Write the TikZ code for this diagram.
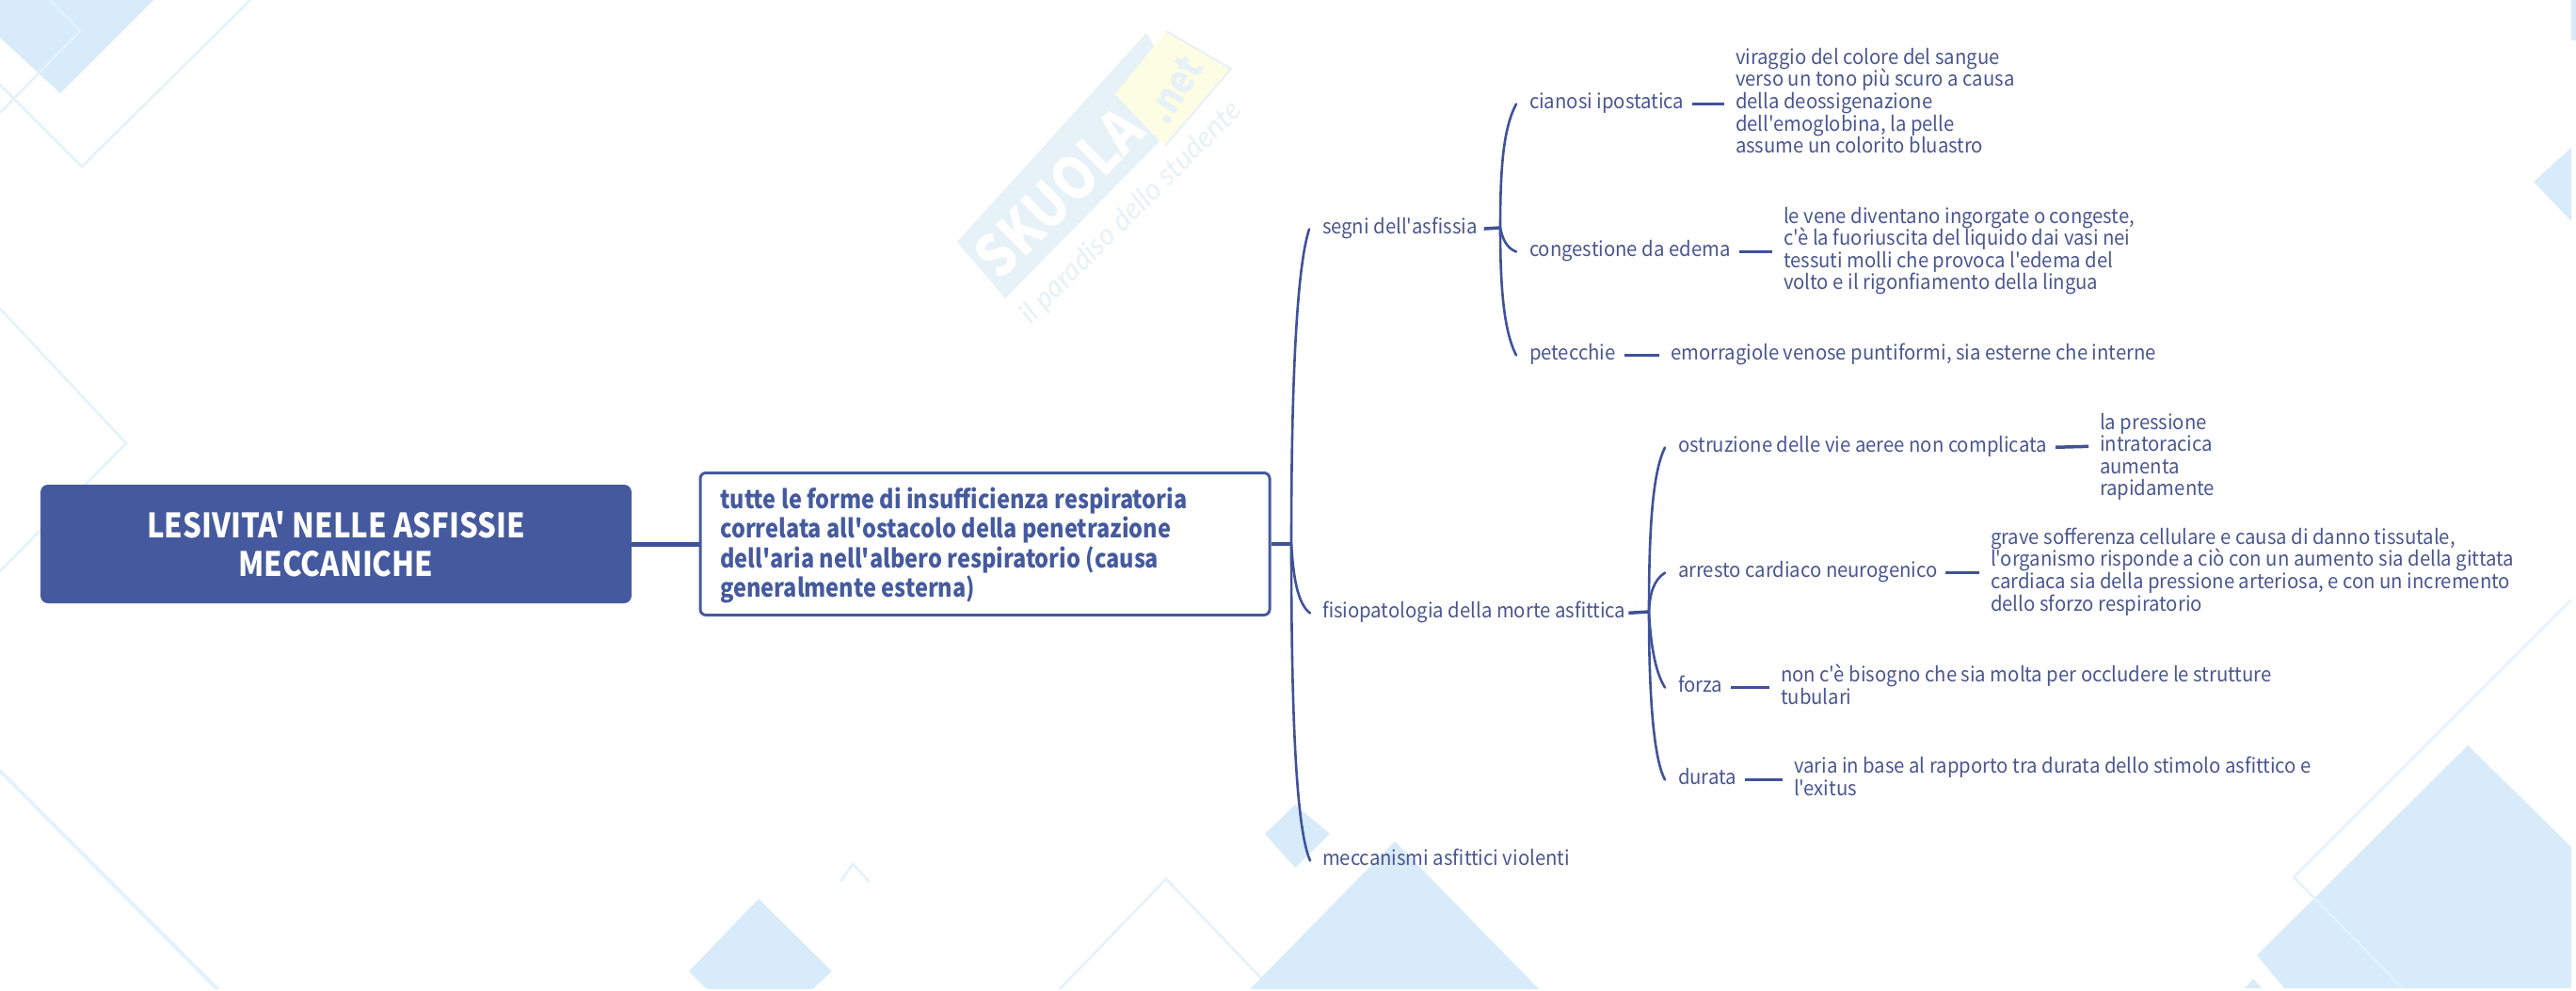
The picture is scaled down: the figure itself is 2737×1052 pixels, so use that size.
\documentclass[tikz,border=0pt]{standalone}
\usepackage{fontspec}
\setmainfont[Ligatures=TeXOff,FakeStretch=.94,BoldFeatures={FakeStretch=.87}]{Noto Sans CJK SC}
\newfontfamily\wmfont{Lato}
\definecolor{mainblue}{HTML}{455A9E}
\definecolor{linkblue}{HTML}{3F5299}
\definecolor{txtblue}{HTML}{4A5690}
\definecolor{bgblue}{HTML}{D8EBFA}
\definecolor{bgline}{HTML}{E3F2FC}
\definecolor{wmblue}{HTML}{E6F1F8}
\definecolor{wmyellow}{HTML}{FDFDE4}
\definecolor{wmtext}{HTML}{E6F1F8}
\newcommand{\tightlines}{\lineskiplimit=-100pt\relax}
\tikzset{
  bgfill/.style={fill=bgblue,draw=none},
  bgstroke/.style={draw=bgline,line width=2.5pt,line join=miter},
  leaf/.style={anchor=west,inner sep=0pt,outer sep=0pt,yshift=-1.5pt,text=txtblue,align=left,font=\fontsize{21.6}{23.6}\selectfont\tightlines},
  rootbox/.style={fill=mainblue,rounded corners=8pt,inner sep=0pt,minimum width=628pt,minimum height=126pt,text=white,align=center,font=\fontsize{35.8}{41}\selectfont\bfseries\tightlines},
  subbox/.style={draw=mainblue,fill=white,line width=3pt,rounded corners=6pt,inner sep=0pt,minimum width=605pt,minimum height=151pt},
  subtext/.style={anchor=west,inner sep=0pt,text=mainblue,align=left,font=\fontsize{27}{31.4}\selectfont\bfseries\tightlines},
  trunk/.style={draw=linkblue,line width=5pt},
  stub/.style={draw=linkblue,line width=3.5pt},
  branch/.style={draw=linkblue,line width=2.6pt,line cap=round},
  dashlink/.style={draw=linkblue,line width=3.5pt,shorten <=9pt,shorten >=12pt}
}
\begin{document}
\begin{tikzpicture}[x=1pt,y=-1pt]
\useasboundingbox (0,0) rectangle (2737,1052);
% background decoration
\begin{scope}
\clip (0,0) rectangle (2732,1050);
\fill[bgfill] (0,0) -- (163,0) -- (64,99) -- (0,40) -- cycle;
\draw[bgstroke] (266,0) -- (87,177) -- (0,90);
\draw[bgstroke] (53,0) -- (85,33) -- (0,120);
\draw[bgstroke] (0,328) -- (134,471) -- (0,607);
\draw[bgstroke,line width=4pt] (0,819) -- (232,1052);
\fill[bgfill] (806,955) -- (884,1032) -- (862,1052) -- (752,1052) -- (732,1032) -- cycle;
\draw[bgstroke] (1125,1052) -- (1239,934) -- (1352,1052);
\draw[bgstroke] (893,937) -- (906,918) -- (924,937);
\fill[bgfill] (1376,855) -- (1413,886) -- (1376,922) -- (1344,886) -- cycle;
\fill[bgfill] (1482,894) -- (1636,1052) -- (1327,1052) -- cycle;
\fill[bgfill] (2622,792) -- (2732,900) -- (2732,1050) -- (2427,1050) -- (2398,1015) -- cycle;
\draw[bgstroke] (2732,637) -- (2437,932) -- (2553,1050);
\fill[bgfill] (2385,1050) -- (2394,1040) -- (2403,1050) -- cycle;
\fill[bgfill] (2692,193) -- (2732,157) -- (2732,235) -- cycle;
\end{scope}
\fill[bgfill] (2732,0) rectangle (2737,43);
% watermark
\fill[wmblue] (1218,35) -- (1017,257) -- (1068,317) -- (1232,150) -- (1185,100) -- (1228,52) -- cycle;
\fill[wmyellow] (1239,33) -- (1308,73) -- (1238,155) -- (1185,100) -- cycle;
\draw[wmblue,line width=2pt] (1239,33) -- (1308,73) -- (1238,155);
\node[rotate=45,inner sep=0pt,text=white,font=\fontsize{62}{62}\selectfont\bfseries] (wmname) at (1125,205) {SKUOLA};
\node[rotate=58,inner sep=0pt,text=wmtext,font=\fontsize{42}{42}\selectfont\bfseries] (wmnet) at (1248,95) {.net};
\node[rotate=45,inner sep=0pt,text=wmtext,font=\wmfont\itshape\fontsize{31}{31}\selectfont] (wmtag) at (1202,226) {il paradiso dello studente};

% nodes
\node[rootbox] (root) at (357,578) {LESIVITA' NELLE ASFISSIE\\MECCANICHE};
\node[subbox] (main) at (1046.5,578) {};
\node[subtext] (maintext) at (765,581) {\strut tutte le forme di insufficienza respiratoria\\correlata all'ostacolo della penetrazione\\dell'aria nell'albero respiratorio (causa\\generalmente esterna)\strut};

\node[leaf] (segni) at (1405,242) {\strut segni dell'asfissia};
\node[leaf] (fisio) at (1405,650) {\strut fisiopatologia della morte asfittica};
\node[leaf] (mecc) at (1405,913) {\strut meccanismi asfittici violenti};

\node[leaf] (cian) at (1625,109) {\strut cianosi ipostatica};
\node[leaf] (cong) at (1625,266) {\strut congestione da edema};
\node[leaf] (pet) at (1625,376) {\strut petecchie};

\node[leaf] (cian2) at (1844,109) {\strut viraggio del colore del sangue\\verso un tono più scuro a causa\\della deossigenazione\\dell'emoglobina, la pelle\\assume un colorito bluastro\strut};
\node[leaf] (cong2) at (1895,266) {\strut le vene diventano ingorgate o congeste,\\c'è la fuoriuscita del liquido dai vasi nei\\tessuti molli che provoca l'edema del\\volto e il rigonfiamento della lingua\strut};
\node[leaf] (pet2) at (1775,376) {\strut emorragiole venose puntiformi, sia esterne che interne};

\node[leaf] (ostr) at (1783,474) {\strut ostruzione delle vie aeree non complicata};
\node[leaf] (arre) at (1783,607) {\strut arresto cardiaco neurogenico};
\node[leaf] (forz) at (1783,729) {\strut forza};
\node[leaf] (dura) at (1783,827) {\strut durata};

\node[leaf] (ostr2) at (2231,485) {\strut la pressione\\intratoracica\\aumenta\\rapidamente\strut};
\node[leaf] (arre2) at (2115,607) {\strut grave sofferenza cellulare e causa di danno tissutale,\\l'organismo risponde a ciò con un aumento sia della gittata\\cardiaca sia della pressione arteriosa, e con un incremento\\dello sforzo respiratorio\strut};
\node[leaf] (forz2) at (1892,729) {\strut non c'è bisogno che sia molta per occludere le strutture\\tubulari\strut};
\node[leaf] (dura2) at (1906,827) {\strut varia in base al rapporto tra durata dello stimolo asfittico e\\l'exitus\strut};

\coordinate (sp1) at (1372,578);
\coordinate (sp2) at (1594,242);
\coordinate (sp3) at (1752,650);
\coordinate (ostrin) at (2231,474);

% connectors
\draw[trunk] (root.east) -- (main.west);
\draw[stub] (main.east) -- (sp1);
\draw[branch] (sp1) .. controls +(0,-160) and +(-14,43) .. ([xshift=-14pt]segni.west);
\draw[branch] (sp1) .. controls +(2,32) and +(-14,-10) .. ([xshift=-13pt]fisio.west);
\draw[branch] (sp1) .. controls +(0,180) and +(-15,-34) .. ([xshift=-13pt]mecc.west);

\draw[stub,shorten <=7pt] (segni.east) -- (sp2);
\draw[branch] (sp2) .. controls +(0,-62) and +(-14,26) .. ([xshift=-14pt]cian.west);
\draw[branch] (sp2) .. controls +(2,10) and +(-11,-4) .. ([xshift=-14pt]cong.west);
\draw[branch] (sp2) .. controls +(0,58) and +(-14,-27) .. ([xshift=-14pt]pet.west);

\draw[stub,shorten <=3pt] (fisio.east) -- (sp3);
\draw[branch] (sp3) .. controls +(0,-90) and +(-13,26) .. ([xshift=-14pt]ostr.west);
\draw[branch] (sp3) .. controls +(1,-20) and +(-12,8) .. ([xshift=-14pt]arre.west);
\draw[branch] (sp3) .. controls +(2,40) and +(-9,-14) .. ([xshift=-14pt]forz.west);
\draw[branch] (sp3) .. controls +(0,90) and +(-12,-22) .. ([xshift=-14pt]dura.west);

\draw[dashlink] (cian.east) -- (cian2.west);
\draw[dashlink] (cong.east) -- (cong2.west);
\draw[dashlink] (pet.east) -- (pet2.west);
\draw[dashlink] (ostr.east) -- (ostrin);
\draw[dashlink] (arre.east) -- (arre2.west);
\draw[dashlink] (forz.east) -- (forz2.west);
\draw[dashlink] (dura.east) -- (dura2.west);
\end{tikzpicture}
\end{document}
